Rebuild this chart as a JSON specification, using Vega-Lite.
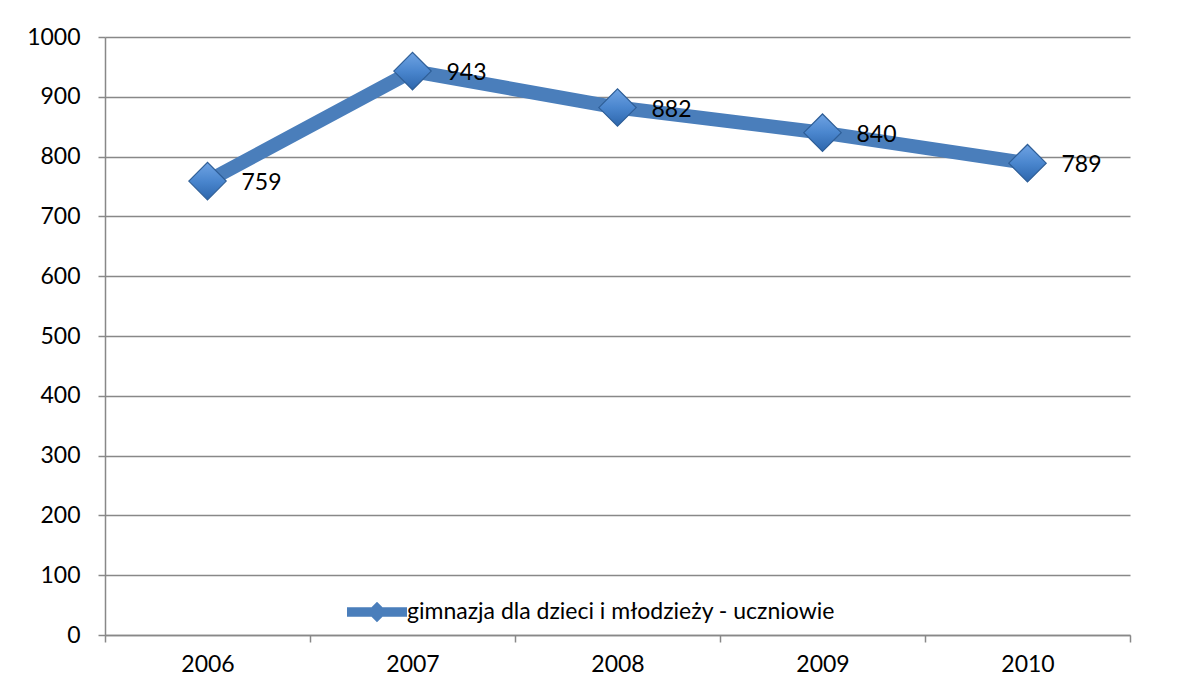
{
  "$schema": "https://vega.github.io/schema/vega-lite/v6.json",
  "width": 1025,
  "height": 598,
  "autosize": "none",
  "padding": {"left": 105, "top": 37, "right": 56, "bottom": 62},
  "background": "white",
  "config": {
    "view": {"stroke": null},
    "font": "Lato"
  },
  "data": {
    "values": [
      {"rok": "2006", "uczniowie": 759},
      {"rok": "2007", "uczniowie": 943},
      {"rok": "2008", "uczniowie": 882},
      {"rok": "2009", "uczniowie": 840},
      {"rok": "2010", "uczniowie": 789}
    ]
  },
  "encoding": {
    "x": {
      "field": "rok",
      "type": "ordinal",
      "bandPosition": 0.5,
      "scale": {"type": "band", "paddingInner": 0, "paddingOuter": 0},
      "axis": {
        "title": null,
        "labelAngle": 0,
        "tickBand": "extent",
        "domainColor": "#888888",
        "domainWidth": 1.5,
        "tickColor": "#888888",
        "tickWidth": 1.5,
        "tickSize": 7,
        "labelFont": "Lato",
        "labelFontSize": 23,
        "labelColor": "#000000",
        "labelPadding": 11,
        "grid": false
      }
    },
    "y": {
      "field": "uczniowie",
      "type": "quantitative",
      "scale": {"domain": [0, 1000], "nice": false},
      "axis": {
        "title": null,
        "format": "d",
        "values": [0, 100, 200, 300, 400, 500, 600, 700, 800, 900, 1000],
        "grid": true,
        "gridColor": "#888888",
        "gridWidth": 1.5,
        "domainColor": "#888888",
        "domainWidth": 1.5,
        "tickColor": "#888888",
        "tickWidth": 1.5,
        "tickSize": 7,
        "labelFont": "Lato",
        "labelFontSize": 23,
        "labelColor": "#000000",
        "labelPadding": 18
      }
    }
  },
  "layer": [
    {
      "mark": {"type": "line", "strokeWidth": 14, "strokeCap": "butt", "strokeJoin": "miter"},
      "encoding": {
        "color": {
          "datum": "gimnazja dla dzieci i młodzieży - uczniowie",
          "type": "nominal",
          "scale": {"range": ["#4A7EBB"]},
          "legend": {
            "title": null,
            "orient": "none",
            "legendX": 242,
            "legendY": 545,
            "padding": 0,
            "symbolType": "M-1,-0.16L1,-0.16L1,0.16L-1,0.16Z M0,-0.34L0.34,0L0,0.34L-0.34,0Z",
            "symbolSize": 3600,
            "symbolFillColor": "#4A7EBB",
            "symbolStrokeWidth": 0,
            "labelFont": "Lato",
            "labelFontSize": 23,
            "labelColor": "#000000",
            "labelOffset": 0,
            "labelLimit": 600
          }
        }
      }
    },
    {
      "mark": {
        "type": "point",
        "shape": "diamond",
        "size": 1400,
        "filled": true,
        "opacity": 1,
        "stroke": "#2E5E97",
        "strokeWidth": 1.2,
        "color": {
          "gradient": "linear",
          "x1": 0, "y1": 0, "x2": 0, "y2": 1,
          "stops": [
            {"offset": 0, "color": "#6FA3E3"},
            {"offset": 0.5, "color": "#4A86CE"},
            {"offset": 1, "color": "#2D66AC"}
          ]
        }
      }
    },
    {
      "mark": {
        "type": "text",
        "align": "left",
        "baseline": "middle",
        "dx": 34,
        "dy": 2,
        "font": "Lato",
        "fontSize": 23,
        "color": "#000000"
      },
      "encoding": {
        "text": {"field": "uczniowie", "type": "quantitative"}
      }
    }
  ]
}
